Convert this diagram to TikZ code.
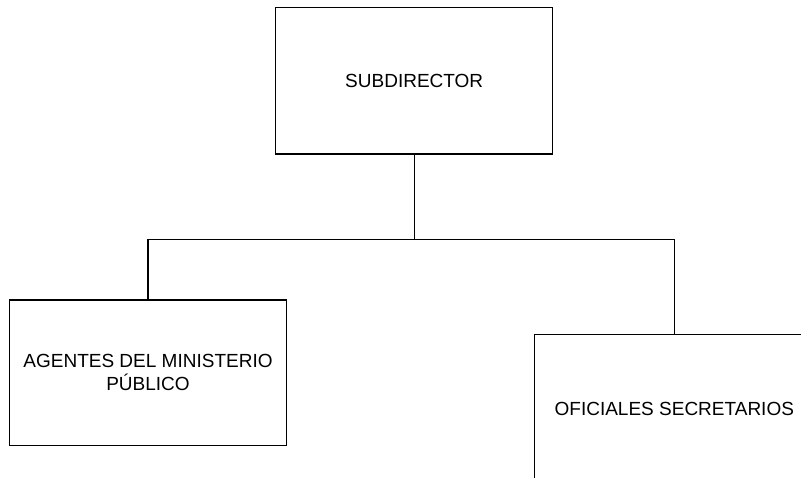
\documentclass[tikz,border=0pt]{standalone}
\usepackage{fontspec}
\setmainfont{Liberation Sans}
\begin{document}
\begin{tikzpicture}[x=1pt,y=-1pt,
  orgbox/.style={draw=black,line width=1.3pt,rectangle,inner sep=0pt,align=center,
    font=\fontsize{19}{23}\selectfont},
  link/.style={draw=black,line width=1.3pt}]
\clip (0,0) rectangle (801,478);
\useasboundingbox (0,0) rectangle (801,478);
\node[orgbox,minimum width=277pt,minimum height=146.7pt] (top) at (414.2,80.7) {SUBDIRECTOR};
\node[orgbox,minimum width=277.4pt,minimum height=145.3pt] (left) at (148,372.7) {AGENTES DEL MINISTERIO\\PÚBLICO};
\node[orgbox,minimum width=279.3pt,minimum height=149.3pt] (right) at (674.3,409.3) {OFICIALES SECRETARIOS};
\coordinate (j) at (414.2,239.5);
\draw[link] (top.south) -- (j);
\draw[link] (j) -| (left.north);
\draw[link] (j) -| (right.north);
\end{tikzpicture}
\end{document}
